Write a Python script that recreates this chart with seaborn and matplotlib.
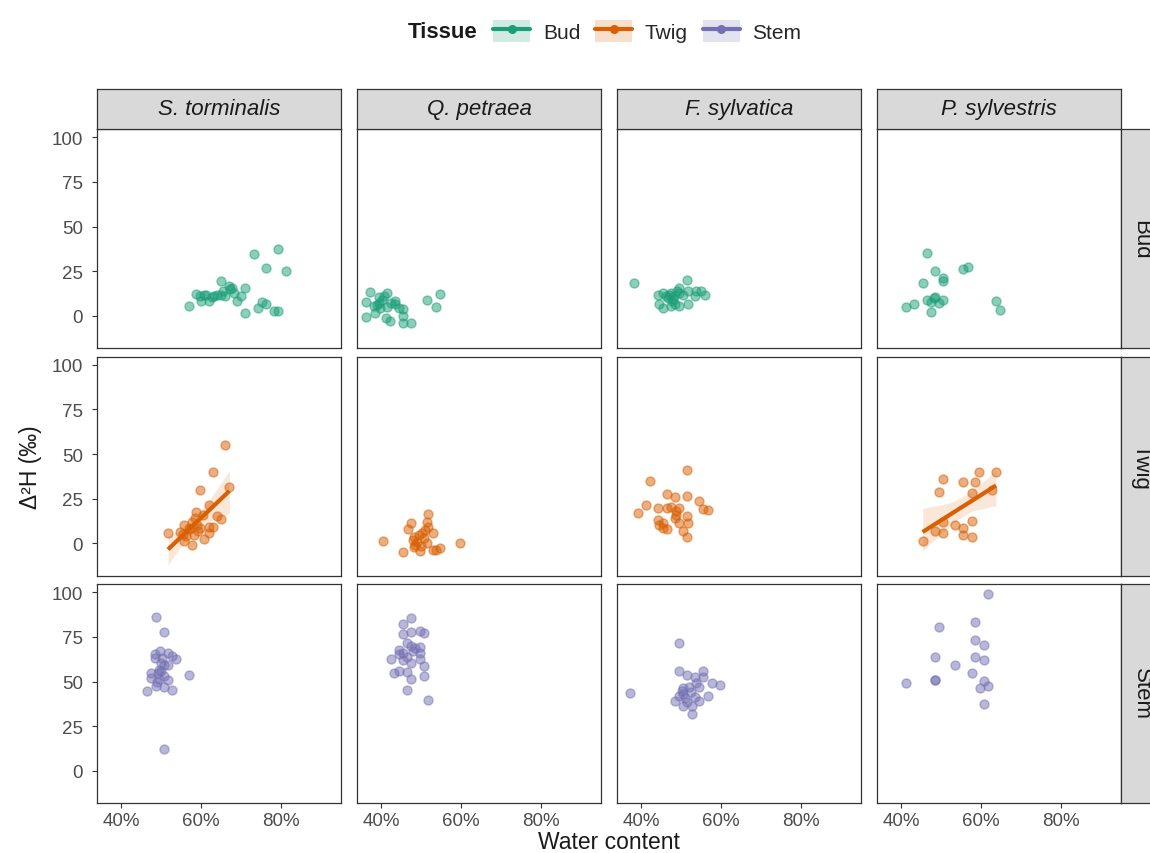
import numpy as np
import pandas as pd
import matplotlib
matplotlib.use("Agg")
import matplotlib.pyplot as plt
import seaborn as sns
from matplotlib.lines import Line2D
from matplotlib.patches import Patch
from matplotlib.legend_handler import HandlerTuple

# ---------------------------------------------------------------- data
species = ["S. torminalis", "Q. petraea", "F. sylvatica", "P. sylvestris"]
tissues = ["Bud", "Twig", "Stem"]
tissue_colors = ["#1B9E77", "#D95F02", "#7570B3"]
x_ticks = [40, 60, 80]
x_tick_labels = ["40%", "60%", "80%"]
y_ticks = [0, 25, 50, 75, 100]

# Water content (%) and Delta 2H (permil) per tissue and species
bud_storm_x = [56.9, 58.75, 59.8, 60.0, 60.8, 61.9, 62.75, 63.2, 64.0, 65.0, 65.0, 66.1, 66.9, 67.75, 68.2,
               70.0, 69.0, 71.1, 71.1, 73.2, 74.2, 75.25, 76.25, 76.3, 78.2, 79.25, 79.25, 81.25, 61.2, 65.5, 67.2]
bud_storm_y = [5.4, 12.4, 10.9, 8.5, 11.9, 8.5, 10.4, 10.9, 11.5, 19.6, 11.9, 10.9, 17.0, 15.6, 12.8,
               11.3, 8.1, 15.9, 1.7, 34.6, 4.4, 7.6, 26.7, 6.7, 2.6, 2.6, 37.4, 25.4, 12.0, 13.8, 14.8]
bud_qpet_x = [37.3, 36.3, 36.3, 38.3, 38.6, 39.4, 39.4, 39.8, 41.5, 41.5, 41.3, 42.3, 43.4, 43.6, 44.4,
              45.5, 45.5, 45.5, 47.5, 51.5, 53.75, 54.8, 40.25, 38.9, 40.8, 42.6]
bud_qpet_y = [13.3, 7.8, -0.7, 5.4, 1.7, 10.4, 7.2, 4.4, 13.1, 4.8, -1.1, -2.6, 8.1, 6.7, 4.4,
              4.1, -0.2, -3.9, -3.9, 8.7, 5.0, 12.4, 9.1, 6.0, 11.0, 7.5]
bud_fsyl_x = [38.3, 44.2, 44.4, 45.4, 45.4, 46.7, 47.5, 47.5, 48.3, 48.6, 49.4, 49.6, 49.6, 51.5, 51.7,
              51.7, 53.75, 53.6, 55.0, 56.1, 46.2, 48.0, 47.0, 48.9, 50.5, 47.8]
bud_fsyl_y = [18.3, 11.9, 6.7, 12.8, 4.4, 10.0, 12.8, 5.4, 10.9, 6.7, 15.9, 12.8, 5.4, 20.2, 14.1,
              6.9, 14.1, 10.9, 13.7, 11.9, 11.2, 9.5, 11.5, 13.8, 12.0, 8.2]
bud_psyl_x = [46.4, 48.4, 45.4, 50.6, 50.6, 55.6, 56.7, 41.25, 43.3, 46.4, 47.5, 48.6, 49.4, 50.6,
              47.5, 63.75, 64.75, 48.3]
bud_psyl_y = [35.4, 25.2, 18.7, 21.1, 19.3, 26.1, 27.6, 4.8, 6.7, 8.7, 7.8, 10.6, 7.2, 8.7,
              2.2, 8.5, 3.1, 9.8]

twig_storm_x = [66.1, 62.9, 59.8, 67.1, 61.9, 58.8, 64.0, 65.0, 51.75, 54.8, 55.8, 56.9, 57.75, 59.0,
                59.8, 61.9, 63.0, 61.9, 60.8, 57.75, 55.8, 58.2, 56.2, 59.2, 57.2, 55.5, 58.6, 60.5]
twig_storm_y = [55.3, 40.0, 29.8, 31.3, 21.4, 17.7, 15.5, 13.6, 6.0, 6.5, 10.6, 8.4, 12.1, 10.2,
                8.4, 9.3, 9.3, 5.6, 2.4, -0.6, 1.3, 4.6, 4.0, 7.0, 8.0, 5.5, 14.0, 16.0]
twig_qpet_x = [40.4, 45.5, 46.7, 47.6, 51.7, 51.7, 53.0, 48.3, 49.4, 48.6, 49.7, 50.7, 51.5, 53.0,
               53.8, 54.8, 59.8, 47.9, 49.0, 50.2, 51.0, 48.2, 51.6, 50.0]
twig_qpet_y = [1.3, -4.7, 8.0, 11.7, 16.4, 9.3, 6.1, 3.7, 4.6, -0.9, -4.3, 2.8, 0.0, -3.4,
               -3.4, -2.4, 0.2, 2.0, 1.0, 6.0, 7.5, -2.0, 12.0, -1.5]
twig_fsyl_x = [51.5, 42.3, 46.4, 48.5, 51.5, 54.6, 41.3, 39.25, 44.3, 46.4, 47.5, 49.4, 48.75, 55.6,
               56.75, 51.5, 48.6, 44.3, 45.4, 49.6, 51.7, 45.4, 46.5, 50.6, 51.6, 44.6, 48.8]
twig_fsyl_y = [41.3, 34.8, 27.6, 25.7, 26.6, 23.9, 21.4, 17.3, 20.1, 19.6, 20.5, 20.1, 18.3, 19.2,
               18.6, 15.5, 14.5, 13.0, 11.7, 11.7, 11.2, 8.4, 8.0, 7.1, 3.5, 10.5, 16.0]
twig_psyl_x = [63.75, 59.6, 50.6, 55.6, 58.6, 49.4, 57.75, 62.75, 57.7, 53.5, 55.6, 55.6, 57.7,
               50.4, 48.5, 50.4, 45.4]
twig_psyl_y = [39.7, 39.7, 36.3, 34.5, 34.1, 28.9, 28.3, 29.8, 12.7, 10.2, 8.4, 5.0, 3.5,
               5.6, 7.1, 12.1, 1.3]

stem_storm_x = [48.7, 50.7, 49.7, 48.6, 48.6, 51.75, 52.75, 53.8, 50.1, 50.7, 51.75, 49.6, 47.6, 56.9,
                50.7, 47.6, 49.6, 51.75, 48.7, 50.7, 52.75, 46.5, 50.7, 49.2, 50.0, 49.0, 50.3]
stem_storm_y = [86.3, 77.7, 67.0, 65.3, 62.9, 65.7, 64.2, 62.4, 60.1, 59.2, 59.2, 56.7, 54.5, 53.9,
                53.0, 51.7, 51.5, 50.7, 47.6, 47.0, 45.5, 44.8, 12.2, 54.5, 56.0, 49.5, 63.0]
stem_qpet_x = [47.6, 45.5, 45.5, 47.6, 49.7, 50.7, 46.5, 47.6, 48.6, 49.7, 44.4, 44.4, 45.5, 46.5,
               45.5, 49.7, 49.7, 47.6, 42.4, 50.7, 43.3, 44.4, 46.5, 50.7, 47.6, 46.5, 51.7, 48.0]
stem_qpet_y = [85.6, 82.0, 76.6, 77.7, 78.1, 77.0, 71.3, 70.0, 68.5, 69.1, 67.6, 65.3, 66.0, 63.5,
               62.0, 62.4, 65.8, 60.5, 62.4, 58.6, 54.5, 56.0, 55.4, 53.2, 51.3, 45.1, 39.5, 67.0]
stem_fsyl_x = [37.25, 49.4, 49.4, 51.5, 53.6, 55.6, 55.6, 57.75, 59.75, 54.6, 50.4, 50.4, 52.5, 49.4,
               53.6, 56.7, 54.6, 48.4, 51.5, 50.4, 52.7, 52.7, 53.8, 51.0, 50.2, 52.0]
stem_fsyl_y = [43.8, 71.7, 56.0, 53.5, 52.6, 56.0, 52.5, 49.4, 47.9, 47.0, 46.1, 43.3, 44.2, 42.0,
               41.4, 42.0, 39.2, 39.2, 38.6, 36.1, 36.1, 31.6, 49.0, 41.0, 44.5, 47.0]
stem_psyl_x = [61.75, 58.6, 49.5, 58.6, 60.7, 48.4, 58.6, 60.7, 53.5, 57.7, 41.25, 48.4, 48.4,
               60.7, 61.75, 59.7, 60.7]
stem_psyl_y = [98.9, 83.1, 80.2, 73.2, 70.4, 63.9, 63.5, 62.0, 59.2, 54.5, 48.9, 50.6, 50.6,
               50.4, 47.4, 46.1, 37.6]

panel_data = {
    ("Bud", "S. torminalis"): (bud_storm_x, bud_storm_y),
    ("Bud", "Q. petraea"): (bud_qpet_x, bud_qpet_y),
    ("Bud", "F. sylvatica"): (bud_fsyl_x, bud_fsyl_y),
    ("Bud", "P. sylvestris"): (bud_psyl_x, bud_psyl_y),
    ("Twig", "S. torminalis"): (twig_storm_x, twig_storm_y),
    ("Twig", "Q. petraea"): (twig_qpet_x, twig_qpet_y),
    ("Twig", "F. sylvatica"): (twig_fsyl_x, twig_fsyl_y),
    ("Twig", "P. sylvestris"): (twig_psyl_x, twig_psyl_y),
    ("Stem", "S. torminalis"): (stem_storm_x, stem_storm_y),
    ("Stem", "Q. petraea"): (stem_qpet_x, stem_qpet_y),
    ("Stem", "F. sylvatica"): (stem_fsyl_x, stem_fsyl_y),
    ("Stem", "P. sylvestris"): (stem_psyl_x, stem_psyl_y),
}
# panels with a significant linear trend
fitted_panels = [("Twig", "S. torminalis"), ("Twig", "P. sylvestris")]

frames = []
for (tissue, sp), (xs, ys) in panel_data.items():
    frames.append(pd.DataFrame({"Tissue": tissue, "Species": sp, "water": xs, "d2h": ys}))
df = pd.concat(frames, ignore_index=True)

# ---------------------------------------------------------------- style
sns.set_theme(style="white")
plt.rcParams["font.family"] = ["Liberation Sans", "DejaVu Sans"]

W, H = 1150, 854
palette = dict(zip(tissues, tissue_colors))
border = "#333333"
tick_text = "#4D4D4D"

g = sns.FacetGrid(df, row="Tissue", col="Species", row_order=tissues, col_order=species,
                  sharex=True, sharey=True, despine=False, height=2.2, aspect=1.1)
fig = g.figure
fig.set_size_inches(W / 100, H / 100)
fig.set_dpi(100)

# panel geometry in pixels
col_left = [97, 357, 617, 877]
row_top = [130, 357.5, 585]
pw, ph = 244, 219


def fx(px):
    return px / W


def fy(py):
    return 1 - py / H


for r, tissue in enumerate(tissues):
    for c, sp in enumerate(species):
        ax = g.axes[r, c]
        ax.set_position([fx(col_left[c]), fy(row_top[r] + ph), pw / W, ph / H])
        sub = df[(df["Tissue"] == tissue) & (df["Species"] == sp)]
        color = palette[tissue]
        if (tissue, sp) in fitted_panels:
            sns.regplot(data=sub, x="water", y="d2h", ax=ax, scatter=False, color=color,
                        ci=95, n_boot=1000, seed=7, truncate=True,
                        line_kws=dict(lw=3.0, solid_capstyle="butt"))
        sns.scatterplot(data=sub, x="water", y="d2h", ax=ax, color=color, s=42, alpha=0.5,
                        edgecolor=color, linewidth=1.0, legend=False, zorder=3)
        ax.set_title("")
        ax.set_xlabel("")
        ax.set_ylabel("")
        ax.set_xlim(34, 95)
        ax.set_ylim(-17.9, 104.5)
        ax.set_xticks(x_ticks)
        ax.set_xticklabels(x_tick_labels)
        ax.set_yticks(y_ticks)
        ax.grid(False)
        ax.set_facecolor("white")
        for s in ax.spines.values():
            s.set_color(border)
            s.set_linewidth(0.9)
        ax.tick_params(axis="both", which="both", length=3.5, width=0.8, color=border,
                       labelcolor=tick_text, labelsize=13.5, pad=3)
        ax.tick_params(axis="y", pad=6.5)
        ax.tick_params(axis="x", bottom=(r == 2), labelbottom=(r == 2))
        ax.tick_params(axis="y", left=(c == 0), labelleft=(c == 0))

# facet strips
for c, sp in enumerate(species):
    sax = fig.add_axes([fx(col_left[c]), fy(row_top[0]), pw / W, 40 / H])
    sax.set_facecolor("#D9D9D9")
    sax.set_xticks([])
    sax.set_yticks([])
    for s in sax.spines.values():
        s.set_color(border)
        s.set_linewidth(0.9)
    sax.text(0.5, 0.5, sp, transform=sax.transAxes, ha="center", va="center",
             fontsize=16, style="italic", color="#1A1A1A")

for r, tissue in enumerate(tissues):
    sax = fig.add_axes([fx(1121), fy(row_top[r] + ph), 40 / W, ph / H])
    sax.set_facecolor("#D9D9D9")
    sax.set_xticks([])
    sax.set_yticks([])
    for s in sax.spines.values():
        s.set_color(border)
        s.set_linewidth(0.9)
    sax.text(0.5, 0.5, tissue, transform=sax.transAxes, ha="center", va="center",
             fontsize=16, rotation=-90, color="#1A1A1A")

# axis titles
fig.text(fx(609), fy(843), "Water content", ha="center", va="center", fontsize=16.5, color="#1A1A1A")
fig.text(fx(30), fy(467), "Δ²H (‰)", ha="center", va="center", rotation=90,
         fontsize=16.5, color="#1A1A1A")

# legend
fig.text(fx(408), fy(32), "Tissue", ha="left", va="center", fontsize=16, fontweight="bold",
         color="#1A1A1A")
handles = []
for col in tissue_colors:
    handles.append((Patch(facecolor=col, alpha=0.2, edgecolor="none"),
                    Line2D([], [], color=col, lw=3.0, marker="o", markersize=5.5,
                           markeredgecolor=col)))
fig.legend(handles, tissues, loc="center left", bbox_to_anchor=(fx(493), fy(32)), ncol=3,
           frameon=False, fontsize=15, handlelength=1.78, handleheight=1.2, handletextpad=0.62,
           columnspacing=0.7, borderpad=0, borderaxespad=0,
           handler_map={tuple: HandlerTuple(ndivide=1, pad=0)})

fig.savefig("out.png", dpi=100)
